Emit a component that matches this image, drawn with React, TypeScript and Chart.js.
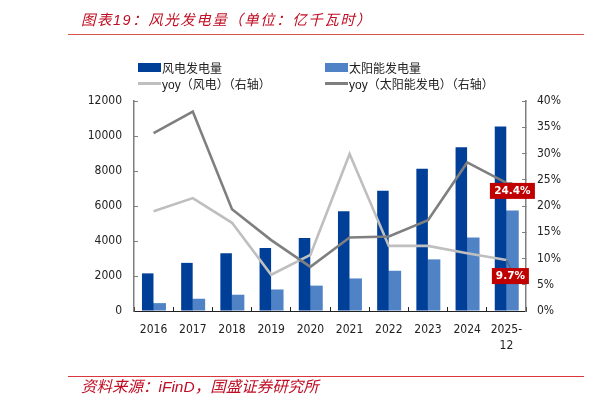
import { useEffect, useRef } from "react";
import { Chart, registerables } from "chart.js";

Chart.register(...registerables);

const years = ["2016", "2017", "2018", "2019", "2020", "2021", "2022", "2023", "2024", ["2025-", "12"]];
const windPower = [2150, 2750, 3300, 3600, 4170, 5700, 6870, 8130, 9360, 10550];
const solarPower = [450, 700, 930, 1230, 1450, 1860, 2300, 2950, 4200, 5750];
const windYoy = [19.0, 21.5, 16.8, 6.9, 10.7, 29.9, 12.4, 12.4, 11.0, 9.7];
const solarYoy = [33.9, 38.0, 19.4, 13.5, 8.4, 14.0, 14.2, 17.3, 28.3, 24.4];

const BLUE = "#003f98";
const LIGHT_BLUE = "#5083c5";
const LIGHT_GREY = "#bfbfbf";
const DARK_GREY = "#7f7f7f";
const RED = "#c00000";
const TITLE_RED = "#c00d23";
const TEXT = "#222222";
const FONT = "'DejaVu Sans Condensed', 'DejaVu Sans', sans-serif";
const CJK = "'Liberation Sans', 'Noto Sans CJK SC', sans-serif";

// red boxes on the last yoy points
const endLabels = {
  id: "endLabels",
  afterDatasetsDraw(chart: Chart) {
    const { ctx, scales } = chart;
    const x = scales.x.getPixelForValue(years.length - 1);
    const boxes = [
      { value: solarYoy[solarYoy.length - 1], w: 45, dx: 6, dy: 8 },
      { value: windYoy[windYoy.length - 1], w: 37, dx: 4, dy: 16 },
    ];
    ctx.save();
    ctx.font = "bold 10.5px 'DejaVu Sans', sans-serif";
    ctx.textAlign = "center";
    ctx.textBaseline = "middle";
    boxes.forEach((b) => {
      const py = scales.y1.getPixelForValue(b.value);
      const y = py + b.dy;
      const cx = x + b.dx;
      // leader from the point down to the box
      ctx.strokeStyle = "#555555";
      ctx.lineWidth = 1;
      ctx.beginPath();
      ctx.moveTo(x, py);
      ctx.lineTo(cx, y - 8);
      ctx.stroke();
      ctx.fillStyle = RED;
      ctx.fillRect(cx - b.w / 2, y - 8, b.w, 16);
      ctx.fillStyle = "#ffffff";
      ctx.fillText(b.value.toFixed(1) + "%", cx, y);
    });
    ctx.restore();
  },
};

const legendItems = [
  { label: "风电发电量", color: BLUE, left: 138, top: 60, bar: true },
  { label: "太阳能发电量", color: LIGHT_BLUE, left: 325, top: 60, bar: true },
  { label: "yoy（风电）（右轴）", color: LIGHT_GREY, left: 138, top: 76, bar: false },
  { label: "yoy（太阳能发电）（右轴）", color: DARK_GREY, left: 325, top: 76, bar: false },
];

const noPadding = (a: any) => {
  a.paddingTop = 0;
  a.paddingBottom = 0;
  a.paddingLeft = 0;
  a.paddingRight = 0;
};

export default function App() {
  const canvasRef = useRef<HTMLCanvasElement>(null);

  useEffect(() => {
    document.body.style.margin = "0";
    if (!canvasRef.current) return;
    const chart = new Chart(canvasRef.current, {
      type: "bar",
      data: {
        labels: years,
        datasets: [
          { type: "line", label: "yoy（太阳能发电）（右轴）", data: solarYoy, yAxisID: "y1", borderColor: DARK_GREY, borderWidth: 2.6, pointRadius: 0, tension: 0, order: 0 },
          { type: "line", label: "yoy（风电）（右轴）", data: windYoy, yAxisID: "y1", borderColor: LIGHT_GREY, borderWidth: 2.6, pointRadius: 0, tension: 0, order: 1 },
          { type: "bar", label: "风电发电量", data: windPower, yAxisID: "y", backgroundColor: BLUE, categoryPercentage: 0.6, barPercentage: 0.98, order: 2 },
          { type: "bar", label: "太阳能发电量", data: solarPower, yAxisID: "y", backgroundColor: LIGHT_BLUE, categoryPercentage: 0.6, barPercentage: 1.1, order: 3 },
        ],
      },
      options: {
        responsive: false,
        animation: false,
        layout: { padding: { top: 101, bottom: 37 } },
        plugins: { legend: { display: false }, tooltip: { enabled: false } },
        scales: {
          x: {
            grid: { drawOnChartArea: false, tickLength: -4, tickColor: TEXT },
            border: { color: TEXT },
            ticks: { color: TEXT, font: { family: FONT, size: 12, lineHeight: 1.3 }, maxRotation: 0, autoSkip: false, padding: 15 },
            afterFit: (a) => { a.height = 60; noPadding(a); },
          },
          y: {
            position: "left",
            min: 0,
            max: 12000,
            grid: { drawOnChartArea: false, tickLength: -4, tickColor: DARK_GREY },
            border: { color: DARK_GREY, width: 1.5 },
            ticks: { stepSize: 2000, color: TEXT, font: { family: FONT, size: 12 }, padding: 16, callback: (v) => String(v) },
            afterFit: (a) => { a.width = 134; noPadding(a); },
          },
          y1: {
            position: "right",
            min: 0,
            max: 40,
            grid: { drawOnChartArea: false, tickLength: -4, tickColor: DARK_GREY },
            border: { color: DARK_GREY, width: 1.5 },
            ticks: { stepSize: 5, color: TEXT, font: { family: FONT, size: 12 }, padding: 15, callback: (v) => v + "%" },
            afterFit: (a) => { a.width = 85; noPadding(a); },
          },
        },
      },
      plugins: [endLabels],
    });
    return () => chart.destroy();
  }, []);

  return (
    <div style={{ position: "absolute", left: 0, top: 0, width: 611, height: 408, background: "#fff", overflow: "hidden" }}>
      <canvas ref={canvasRef} width={611} height={408} style={{ position: "absolute", left: 0, top: 0 }} />
      <div style={{ position: "absolute", left: 81, top: 8, color: TITLE_RED, fontFamily: CJK, fontStyle: "italic", fontSize: 14.5, letterSpacing: 1.5, whiteSpace: "nowrap" }}>
        图表19：风光发电量（单位：亿千瓦时）
      </div>
      <div style={{ position: "absolute", left: 68, top: 34, width: 516, height: 1, background: "#d9534f" }} />
      {legendItems.map((it) => (
        <div key={it.label} style={{ position: "absolute", left: it.left, top: it.top, display: "flex", alignItems: "center", height: 14, whiteSpace: "nowrap", fontFamily: CJK, fontSize: 12, color: TEXT }}>
          <span style={{ display: "inline-block", width: 23, height: it.bar ? 9 : 3, background: it.color, marginRight: 1 }} />
          {it.label}
        </div>
      ))}
      <div style={{ position: "absolute", left: 68, top: 376, width: 516, height: 1, background: "#d9363e" }} />
      <div style={{ position: "absolute", left: 81, top: 379, color: TITLE_RED, fontFamily: CJK, fontStyle: "italic", fontSize: 15.5, lineHeight: "16px", whiteSpace: "nowrap" }}>
        资料来源：iFinD，国盛证券研究所
      </div>
    </div>
  );
}
